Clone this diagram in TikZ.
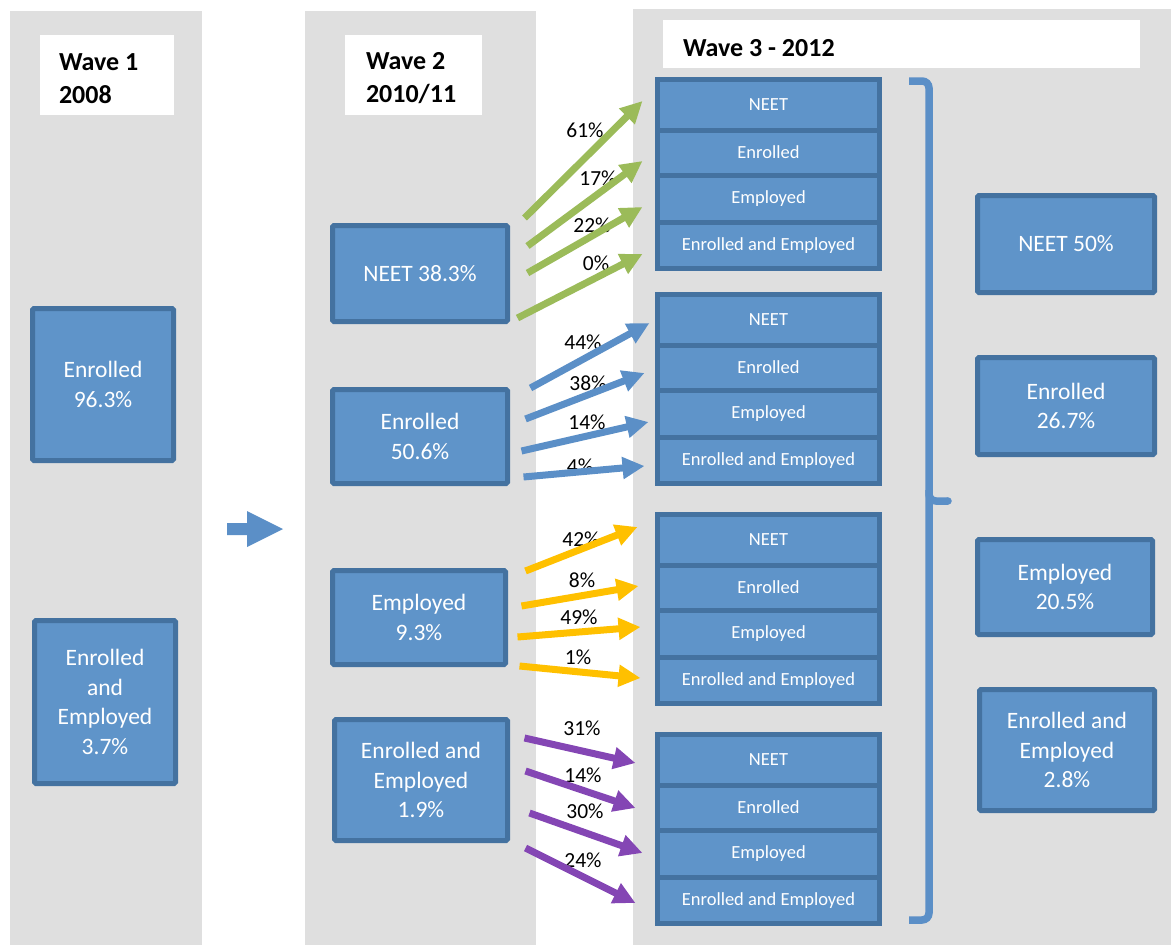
\documentclass[tikz,border=0pt]{standalone}
\usepackage{fontspec}
\setmainfont{Carlito}
\usetikzlibrary{arrows.meta,positioning}

\definecolor{bggray}{HTML}{DFDFDF}
\definecolor{boxfill}{HTML}{5F94C9}
\definecolor{boxline}{HTML}{4472A0}
\definecolor{arrblue}{HTML}{5B8FC7}
\definecolor{arrgreen}{HTML}{9BBB59}
\definecolor{arryellow}{HTML}{FFC000}
\definecolor{arrpurple}{HTML}{8446B4}

\tikzset{
    bigbox/.style={draw=boxline, fill=boxfill, line width=5pt, rounded corners=1.5pt,
        text=white, align=center, inner sep=0pt, font=\fontsize{23.5}{29.5}\selectfont},
    subbox/.style={draw=boxline, fill=boxfill, line width=5pt, minimum width=222pt,
        text=white, inner sep=0pt, font=\fontsize{18.5}{22}\selectfont},
    hdr/.style={fill=white, inner sep=0pt},
    hdtxt/.style={inner sep=0pt, anchor=west, align=left, font=\fontsize{26}{33}\selectfont\bfseries},
    pct/.style={inner sep=0pt, font=\fontsize{21.5}{25}\selectfont},
    brk/.style={draw=arrblue, line width=7.5pt, rounded corners=7pt}
}

\begin{document}
\begin{tikzpicture}[x=1pt, y=-1pt]
    \useasboundingbox (0,0) rectangle (1171,945);

    % columns
    \fill[bggray] (10,11) rectangle (202,945);
    \fill[bggray] (305,11) rectangle (536,945);
    \fill[bggray] (633,9) rectangle (1171,945);

    \node[hdr, minimum width=134pt, minimum height=80pt] (w1) at (107,75) {};
    \node[hdr, minimum width=137pt, minimum height=80pt] (w2) at (413.5,75) {};
    \node[hdr, minimum width=477pt, minimum height=48pt] (w3) at (901.5,44) {};
    \node[hdtxt] (t1) at ([shift={(19,3.5)}]w1.west) {Wave 1\\2008};
    \node[hdtxt] (t2) at ([shift={(21,3.5)}]w2.west) {Wave 2\\2010/11};
    \node[hdtxt] (t3) at ([shift={(20,4)}]w3.west) {Wave 3 - 2012};

    \begin{scope}[every node/.style={bigbox}]
        \node[minimum width=141pt, minimum height=152pt] (A) at (103,384.5) {Enrolled\\96.3\%};
        \node[minimum width=141pt, minimum height=163pt] (B) at (105,702) {Enrolled\\and\\Employed\\3.7\%};

        \node[minimum width=175pt, minimum height=96pt] (C) at (420,273.5) {NEET 38.3\%};
        \node[minimum width=175pt, minimum height=94pt] (D) at (420,436.5) {Enrolled\\50.6\%};
        \node[minimum width=173pt, minimum height=94pt] (E) at (419,617.5) {Employed\\9.3\%};
        \node[minimum width=173pt, minimum height=121pt] (F) at (421,780) {Enrolled and\\Employed\\1.9\%};

        \node[minimum width=177pt, minimum height=97pt] (K) at (1066,244) {NEET 50\%};
        \node[minimum width=177pt, minimum height=97pt] (L) at (1066,406) {Enrolled\\26.7\%};
        \node[minimum width=175pt, minimum height=95pt] (M) at (1065,587) {Employed\\20.5\%};
        \node[minimum width=175pt, minimum height=121pt] (N) at (1067,750) {Enrolled and\\Employed\\2.8\%};
    \end{scope}

    \begin{scope}[every node/.style={subbox}]
        \node[minimum height=50.5pt] (G1) at (768.5,104.75) {NEET};
        \node[minimum height=45pt] (G2) at (768.5,152.5) {Enrolled};
        \node[minimum height=47pt] (G3) at (768.5,198.5) {Employed};
        \node[minimum height=46.5pt] (G4) at (768.5,245.25) {Enrolled and Employed};

        \node[minimum height=50.5pt] (H1) at (768.5,319.75) {NEET};
        \node[minimum height=45pt] (H2) at (768.5,367.5) {Enrolled};
        \node[minimum height=47pt] (H3) at (768.5,413.5) {Employed};
        \node[minimum height=46.5pt] (H4) at (768.5,460.25) {Enrolled and Employed};

        \node[minimum height=50.5pt] (I1) at (768.5,539.75) {NEET};
        \node[minimum height=45pt] (I2) at (768.5,587.5) {Enrolled};
        \node[minimum height=47pt] (I3) at (768.5,633.5) {Employed};
        \node[minimum height=46.5pt] (I4) at (768.5,680.25) {Enrolled and Employed};

        \node[minimum height=50.5pt] (J1) at (768.5,759.75) {NEET};
        \node[minimum height=45pt] (J2) at (768.5,807.5) {Enrolled};
        \node[minimum height=47pt] (J3) at (768.5,853.5) {Employed};
        \node[minimum height=46.5pt] (J4) at (768.5,900.25) {Enrolled and Employed};
    \end{scope}

    % big arrow between waves
    \fill[arrblue] (227,523) -- (247,523) -- (247,511) -- (283,529) -- (247,547) -- (247,535) -- (227,535) -- cycle;

    % bracket
    \draw[brk] (909,81) -- (929,81) -- (929,501) -- (948,501);
    \draw[brk] (929,490) -- (929,920) -- (909,920);
    \fill[arrblue] (948,501) circle (3.75);

    \begin{scope}[every node/.style={pct}]
        \node (p1) at (585,130) {61\%};
        \node (p2) at (598,178) {17\%};
        \node (p3) at (592,225) {22\%};
        \node (p4) at (596,263) {0\%};
        \node (p5) at (583,342) {44\%};
        \node (p6) at (588,383) {38\%};
        \node (p7) at (587,422) {14\%};
        \node (p8) at (580,466) {4\%};
        \node (p9) at (581,539) {42\%};
        \node (p10) at (582,580) {8\%};
        \node (p11) at (579,617) {49\%};
        \node (p12) at (578,657) {1\%};
        \node (p13) at (582,728) {31\%};
        \node (p14) at (583,775) {14\%};
        \node (p15) at (585,811) {30\%};
        \node (p16) at (583,860) {24\%};
    \end{scope}

    \begin{scope}[>={Triangle[length=22pt,width=21pt]},
    every edge/.style={draw=arrgreen,line width=7pt}]
        \path [->] ([shift={(14.5,-55.5)}]C.east) edge ([shift={(-12.5,-3.75)}]G1.west);
        \path [->] ([shift={(17.5,-27.5)}]C.east) edge ([shift={(-12.5,8.5)}]G2.west);
        \path [->] ([shift={(17.5,-0.5)}]C.east) edge ([shift={(-12.5,8.5)}]G3.west);
        \path [->] ([shift={(7.5,44.5)}]C.east) edge ([shift={(-12.5,8.75)}]G4.west);
    \end{scope}

    \begin{scope}[>={Triangle[length=22pt,width=21pt]},
    every edge/.style={draw=arrblue,line width=7pt}]
        \path [->] ([shift={(20.5,-48.5)}]D.east) edge ([shift={(-5.5,3.25)}]H1.west);
        \path [->] ([shift={(15.5,-17.5)}]D.east) edge ([shift={(-10.5,5.5)}]H2.west);
        \path [->] ([shift={(11.5,14.5)}]D.east) edge ([shift={(-6.5,8.5)}]H3.west);
        \path [->] ([shift={(13.5,40.5)}]D.east) edge ([shift={(-10.5,5.75)}]H4.west);
    \end{scope}

    \begin{scope}[>={Triangle[length=22pt,width=21pt]},
    every edge/.style={draw=arryellow,line width=7pt}]
        \path [->] ([shift={(17.5,-46.5)}]E.east) edge ([shift={(-17.5,-12.75)}]I1.west);
        \path [->] ([shift={(13.5,-11.5)}]E.east) edge ([shift={(-16.5,-1.5)}]I2.west);
        \path [->] ([shift={(9.5,19.5)}]E.east) edge ([shift={(-14.5,-6.5)}]I3.west);
        \path [->] ([shift={(11.5,48.5)}]E.east) edge ([shift={(-14.5,-2.25)}]I4.west);
    \end{scope}

    \begin{scope}[>={Triangle[length=22pt,width=21pt]},
    every edge/.style={draw=arrpurple,line width=7pt}]
        \path [->] ([shift={(14.5,-42)}]F.east) edge ([shift={(-19.5,3.25)}]J1.west);
        \path [->] ([shift={(15.5,-9)}]F.east) edge ([shift={(-19.5,0.5)}]J2.west);
        \path [->] ([shift={(19.5,33)}]F.east) edge ([shift={(-12.5,-0.5)}]J3.west);
        \path [->] ([shift={(15.5,68)}]F.east) edge ([shift={(-19.5,2.75)}]J4.west);
    \end{scope}
\end{tikzpicture}
\end{document}
